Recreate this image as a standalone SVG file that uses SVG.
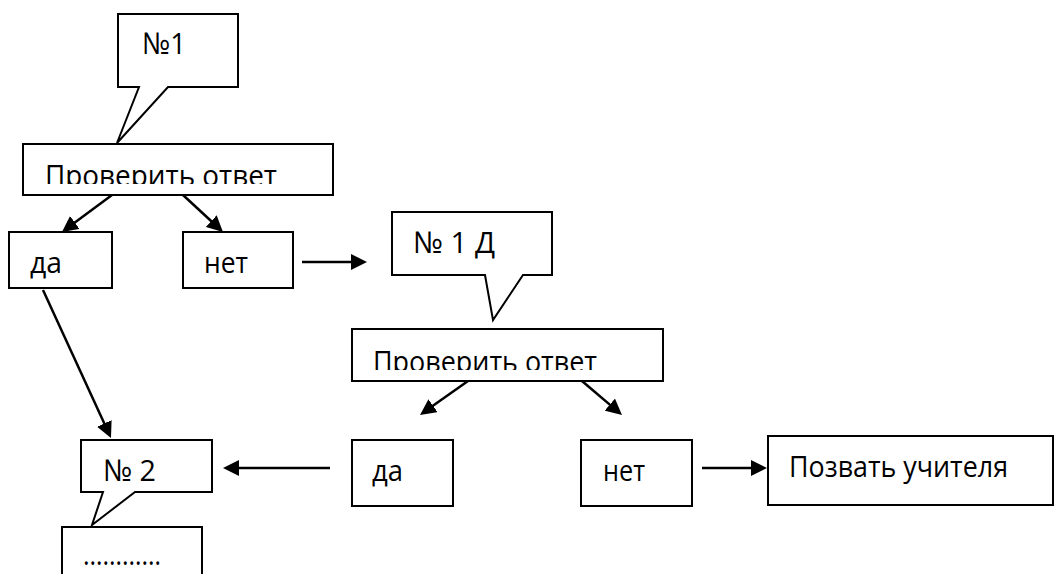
<svg xmlns="http://www.w3.org/2000/svg" width="1057" height="574" viewBox="0 0 1057 574">
<style>
.box{fill:#fff;stroke:#000;stroke-width:2}
.t{font-family:"Open Sans","Noto Sans","DejaVu Sans",sans-serif;font-size:30px;fill:#000}
.c{fill:none;stroke:#000;stroke-width:2.5}
</style>
<defs>
<marker id="ah" markerUnits="userSpaceOnUse" markerWidth="18" markerHeight="16" refX="5" refY="8" orient="auto">
<path d="M0,0 L16,8 L0,16 z" fill="#000"/>
</marker>
<clipPath id="clip1"><rect x="23" y="144" width="310" height="40"/></clipPath>
<clipPath id="clip2"><rect x="352" y="329" width="311" height="41"/></clipPath>
</defs>
<rect width="1057" height="574" fill="#fff"/>
<g id="connectors">
<line class="c" x1="112" y1="195" x2="70.8" y2="225.5" marker-end="url(#ah)"/>
<line class="c" x1="183" y1="195" x2="214.9" y2="224.5" marker-end="url(#ah)"/>
<line class="c" x1="302" y1="262" x2="356" y2="262" marker-end="url(#ah)"/>
<line class="c" x1="43" y1="290" x2="106.4" y2="428" marker-end="url(#ah)"/>
<line class="c" x1="468" y1="381" x2="429" y2="408.6" marker-end="url(#ah)"/>
<line class="c" x1="582" y1="381" x2="613.6" y2="407.9" marker-end="url(#ah)"/>
<line class="c" x1="330" y1="468" x2="234" y2="468" marker-end="url(#ah)"/>
<line class="c" x1="702" y1="468" x2="756" y2="468" marker-end="url(#ah)"/>
</g>
<g id="callout1">
<path class="box" d="M118,14 H238 V87 H168 L117,143 L139,87 H118 Z"/>
<text class="t" x="142" y="54" textLength="44" lengthAdjust="spacingAndGlyphs">№1</text>
</g>
<g id="check1">
<rect class="box" x="23" y="144" width="310" height="51"/>
<text class="t" x="45" y="186" textLength="232" lengthAdjust="spacingAndGlyphs" clip-path="url(#clip1)">Проверить ответ</text>
</g>
<g id="yes1">
<rect class="box" x="9" y="232" width="103" height="56"/>
<text class="t" x="30" y="273" textLength="32" lengthAdjust="spacingAndGlyphs">да</text>
</g>
<g id="no1">
<rect class="box" x="183" y="232" width="110" height="56"/>
<text class="t" x="204" y="273" textLength="44" lengthAdjust="spacingAndGlyphs">нет</text>
</g>
<g id="callout1d">
<path class="box" d="M392,212 H552 V275 H523 L493,320 L485,275 H392 Z"/>
<text class="t" x="413" y="253" textLength="82" lengthAdjust="spacingAndGlyphs">№ 1 Д</text>
</g>
<g id="check2">
<rect class="box" x="352" y="329" width="311" height="52"/>
<text class="t" x="373" y="372" textLength="224" lengthAdjust="spacingAndGlyphs" clip-path="url(#clip2)">Проверить ответ</text>
</g>
<g id="callout2">
<path class="box" d="M81,440 H212 V492 H135 L92,525 L103,492 H81 Z"/>
<text class="t" x="103" y="481" textLength="53" lengthAdjust="spacingAndGlyphs">№ 2</text>
</g>
<g id="yes2">
<rect class="box" x="352" y="440" width="101" height="66"/>
<text class="t" x="372" y="481" textLength="31" lengthAdjust="spacingAndGlyphs">да</text>
</g>
<g id="no2">
<rect class="box" x="581" y="440" width="111" height="66"/>
<text class="t" x="603" y="481" textLength="42" lengthAdjust="spacingAndGlyphs">нет</text>
</g>
<g id="teacher">
<rect class="box" x="768" y="436" width="285" height="69"/>
<text class="t" x="789" y="477" textLength="219" lengthAdjust="spacingAndGlyphs">Позвать учителя</text>
</g>
<g id="next">
<rect class="box" x="62" y="527" width="140" height="60"/>
<text class="t" x="83" y="565" textLength="78" lengthAdjust="spacingAndGlyphs">…………</text>
</g>
</svg>
